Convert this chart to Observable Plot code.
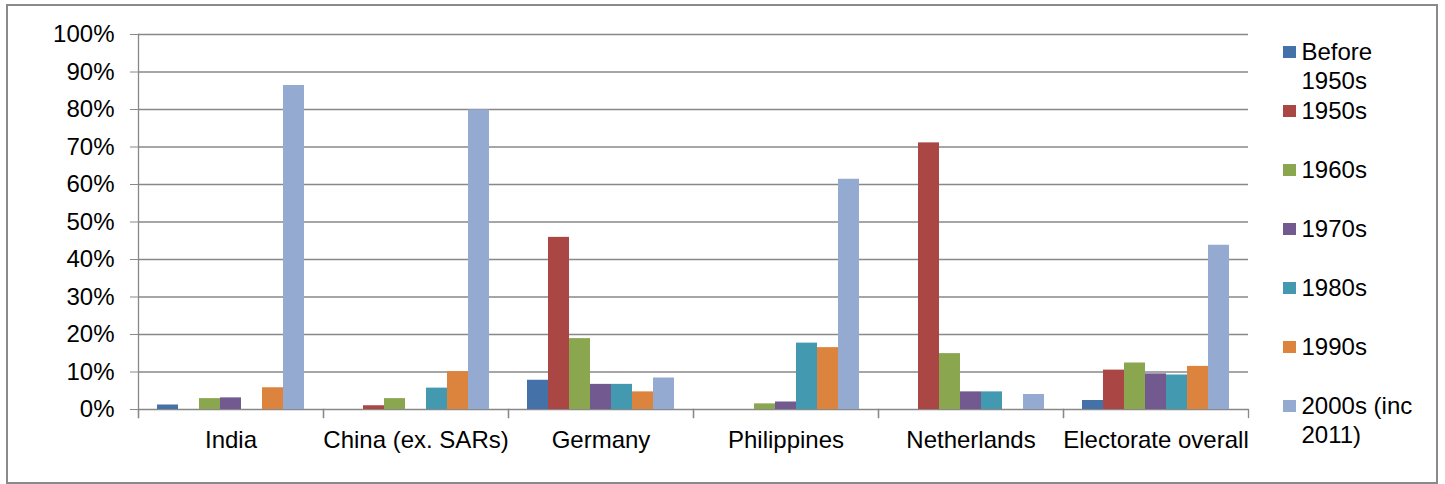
<!DOCTYPE html>
<html><head><meta charset="utf-8">
<script src="https://cdn.jsdelivr.net/npm/d3@7"></script>
<script src="https://cdn.jsdelivr.net/npm/@observablehq/plot@0.6"></script>
<style>
body{margin:0;background:#fff;font-family:"Liberation Sans",Arial,sans-serif;}
#wrap{position:relative;width:1445px;height:484px;overflow:hidden;}
#chart{position:absolute;left:0;top:0;}
#border{position:absolute;left:6px;top:4px;width:1428px;height:476px;border:2px solid #8a8a8a;pointer-events:none;}
#legend{position:absolute;left:1283px;top:37px;width:150px;}
.item{display:flex;align-items:flex-start;height:59px;}
.sw{width:12.5px;height:12.5px;margin-top:8.5px;margin-right:6px;flex:none;}
.lbl{font-size:24px;line-height:29px;width:128px;color:#000;}
</style></head><body>
<div id="wrap"><div id="chart"></div><div id="legend"></div><div id="border"></div></div>
<script>
const categories = ["India", "China (ex. SARs)", "Germany", "Philippines", "Netherlands", "Electorate overall"];
const series = ["Before 1950s", "1950s", "1960s", "1970s", "1980s", "1990s", "2000s (inc 2011)"];
const colors = ["#4472a8", "#aa4644", "#8aa64f", "#72598f", "#4299b0", "#dc843e", "#94aad0"];
const before1950s = [1.2, 0, 7.8, 0, 0, 2.4];
const s1950s = [0, 1.0, 45.9, 0, 71.1, 10.5];
const s1960s = [2.9, 2.9, 18.9, 1.5, 14.9, 12.4];
const s1970s = [3.1, 0, 6.7, 2.0, 4.7, 9.5];
const s1980s = [0, 5.7, 6.7, 17.7, 4.7, 9.2];
const s1990s = [5.8, 10.1, 4.7, 16.5, 0, 11.5];
const s2000s = [86.4, 79.9, 8.4, 61.4, 4.0, 43.8];
const yTicks = [0, 10, 20, 30, 40, 50, 60, 70, 80, 90, 100];

const valuesBySeries = [before1950s, s1950s, s1960s, s1970s, s1980s, s1990s, s2000s];
const rows = [];
series.forEach((s, j) => categories.forEach((c, i) => rows.push({category: c, series: s, value: valuesBySeries[j][i]})));

const W = 1260, H = 470, mT = 34, mB = 61, mL = 137, mR = 12;
const innerH = H - mT - mB;
const gray = "#888888";

const plot = Plot.plot({
  width: W, height: H,
  marginTop: mT, marginBottom: mB, marginLeft: mL, marginRight: mR,
  style: {fontFamily: '"Liberation Sans", Arial, sans-serif', fontSize: "24px", color: "#000", background: "transparent", overflow: "visible"},
  fx: {domain: categories, padding: 0, label: null},
  x: {domain: series, paddingInner: 0, paddingOuter: 0.75, axis: null},
  y: {domain: [0, 100], label: null},
  color: {domain: series, range: colors},
  marks: [
    Plot.ruleY(yTicks, {stroke: gray, strokeWidth: 1.3}),
    Plot.frame({anchor: "left", facetAnchor: "left", insetBottom: -8, stroke: gray, strokeWidth: 1.3}),
    Plot.frame({anchor: "left", insetTop: innerH, insetBottom: -8, stroke: gray, strokeWidth: 1.3}),
    Plot.frame({anchor: "right", insetTop: innerH, insetBottom: -8, stroke: gray, strokeWidth: 1.3}),
    Plot.barY(rows, {fx: "category", x: "series", y: "value", fill: "series"}),
    Plot.axisY(yTicks, {tickSize: 8, tickPadding: 16, tickFormat: d => d + "%", stroke: gray, fontSize: 24, label: null}),
    Plot.axisFx({anchor: "bottom", tickSize: 0, tickPadding: 21, fontSize: 24, label: null})
  ]
});
document.getElementById("chart").append(plot);

const legend = document.getElementById("legend");
series.forEach((s, j) => {
  const item = document.createElement("div");
  item.className = "item";
  const sw = document.createElement("span");
  sw.className = "sw";
  sw.style.background = colors[j];
  const lbl = document.createElement("span");
  lbl.className = "lbl";
  lbl.textContent = s;
  item.append(sw, lbl);
  legend.append(item);
});
</script>
</body></html>
